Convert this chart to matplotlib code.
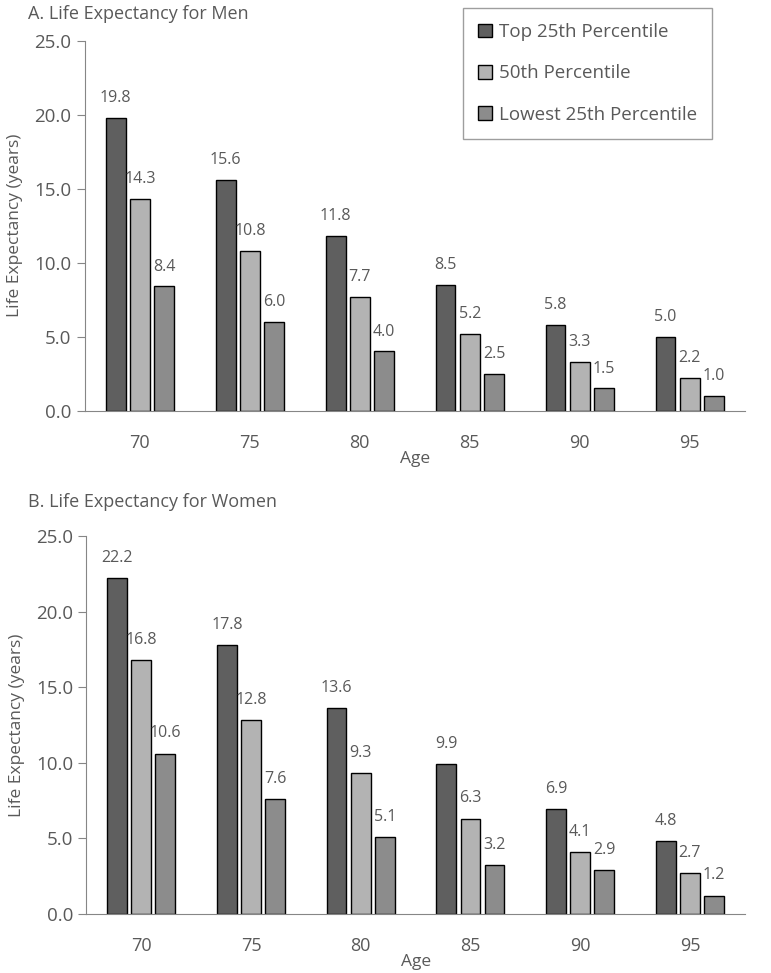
import matplotlib
matplotlib.use("Agg")
import matplotlib.pyplot as plt
import numpy as np

ages = ["70", "75", "80", "85", "90", "95"]
series = ["Top 25th Percentile", "50th Percentile", "Lowest 25th Percentile"]
men_top = [19.8, 15.6, 11.8, 8.5, 5.8, 5.0]
men_mid = [14.3, 10.8, 7.7, 5.2, 3.3, 2.2]
men_low = [8.4, 6.0, 4.0, 2.5, 1.5, 1.0]
women_top = [22.2, 17.8, 13.6, 9.9, 6.9, 4.8]
women_mid = [16.8, 12.8, 9.3, 6.3, 4.1, 2.7]
women_low = [10.6, 7.6, 5.1, 3.2, 2.9, 1.2]

colors = ["#5f5f5f", "#b3b3b3", "#8c8c8c"]
txt = "#595959"
plt.rcParams["font.family"] = ["Open Sans", "DejaVu Sans"]


def draw(ax, data, legend=False):
    x = np.arange(len(ages))
    width = 0.18
    offsets = [-0.22, 0.0, 0.22]
    for vals, off, col, lab in zip(data, offsets, colors, series):
        bars = ax.bar(x + off, vals, width, color=col, edgecolor="black",
                      linewidth=1.0, label=lab)
        for b, v in zip(bars, vals):
            ax.text(b.get_x() + b.get_width() / 2, v + 0.8, f"{v:.1f}",
                    ha="center", va="bottom", fontsize=11.5, color=txt)
    ax.set_xlim(-0.5, len(ages) - 0.5)
    ax.set_ylim(0, 25)
    ax.set_yticks(np.arange(0, 25.1, 5))
    ax.set_yticklabels([f"{t:.1f}" for t in np.arange(0, 25.1, 5)])
    ax.set_xticks(x)
    ax.set_xticklabels(ages)
    ax.tick_params(axis="y", labelsize=13.5, colors=txt, length=6, color="#868686")
    ax.tick_params(axis="x", labelsize=13, colors=txt, length=0, pad=17)
    for s in ["top", "right"]:
        ax.spines[s].set_visible(False)
    for s in ["left", "bottom"]:
        ax.spines[s].set_color("#868686")
    ax.set_ylabel("Life Expectancy (years)", fontsize=12.5, color=txt, labelpad=8)
    ax.set_xlabel("Age", fontsize=12.5, color=txt, labelpad=-1)
    if legend:
        leg = ax.legend(loc="upper right", bbox_to_anchor=(0.951, 1.089),
                        fontsize=13.5, frameon=True, fancybox=False,
                        handlelength=0.75, handleheight=0.75, handletextpad=0.4,
                        labelspacing=1.25, borderpad=0.8, borderaxespad=0,
                        labelcolor=txt)
        leg.get_frame().set_edgecolor("#868686")
        leg.get_frame().set_linewidth(1.0)


fig = plt.figure(figsize=(7.71, 9.73), dpi=100)
ax1 = fig.add_axes([0.110, 0.578, 0.856, 0.380])
ax2 = fig.add_axes([0.112, 0.061, 0.854, 0.388])
draw(ax1, [men_top, men_mid, men_low], legend=True)
draw(ax2, [women_top, women_mid, women_low])
fig.text(0.036, 0.986, "A. Life Expectancy for Men", fontsize=13, color=txt, va="center")
fig.text(0.036, 0.484, "B. Life Expectancy for Women", fontsize=13, color=txt, va="center")
fig.savefig("out.png", dpi=100)
